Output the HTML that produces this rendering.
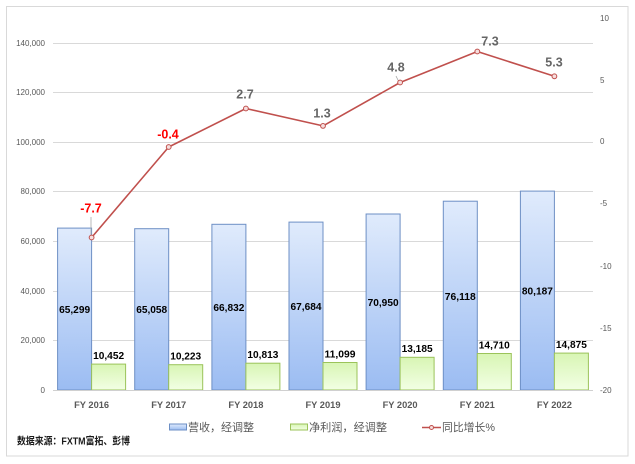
<!DOCTYPE html>
<html><head><meta charset="utf-8">
<style>
html,body{margin:0;padding:0;background:#fff;}
svg{display:block;}
text{font-family:"Liberation Sans","Noto Sans CJK SC",sans-serif;}
</style></head>
<body>
<svg width="635" height="464" viewBox="0 0 635 464" xmlns="http://www.w3.org/2000/svg">
<defs>
<linearGradient id="gb" x1="0" y1="0" x2="0" y2="1">
<stop offset="0" stop-color="#e0ebfc"/><stop offset="1" stop-color="#9bbcf2"/>
</linearGradient>
<linearGradient id="gg" x1="0" y1="0" x2="0" y2="1">
<stop offset="0" stop-color="#d8f5b4"/><stop offset="1" stop-color="#f2ffe4"/>
</linearGradient>
</defs>
<rect x="0" y="0" width="635" height="464" fill="#fff"/>
<rect x="6.5" y="6.5" width="621.5" height="449.5" fill="#fff" stroke="#d9d9d9" stroke-width="1"/>

<!-- gridlines -->
<g stroke="#d9d9d9" stroke-width="1">
<line x1="53" y1="43.5" x2="593" y2="43.5"/>
<line x1="53" y1="92.5" x2="593" y2="92.5"/>
<line x1="53" y1="142.5" x2="593" y2="142.5"/>
<line x1="53" y1="191.5" x2="593" y2="191.5"/>
<line x1="53" y1="241.5" x2="593" y2="241.5"/>
<line x1="53" y1="291.5" x2="593" y2="291.5"/>
<line x1="53" y1="340.5" x2="593" y2="340.5"/>
</g>

<!-- left axis labels -->
<g font-size="8" fill="#595959" text-anchor="end">
<text x="45" y="46">140,000</text>
<text x="45" y="95">120,000</text>
<text x="45" y="145">100,000</text>
<text x="45" y="194">80,000</text>
<text x="45" y="244">60,000</text>
<text x="45" y="294">40,000</text>
<text x="45" y="343">20,000</text>
<text x="45" y="393">0</text>
</g>
<!-- right axis labels -->
<g font-size="8" fill="#595959">
<text x="600" y="21">10</text>
<text x="600" y="83">5</text>
<text x="600" y="144">0</text>
<text x="600" y="206">-5</text>
<text x="600" y="269">-10</text>
<text x="600" y="331">-15</text>
<text x="600" y="393">-20</text>
</g>

<!-- blue bars -->
<g fill="url(#gb)" stroke="#6d8fc5" stroke-width="1">
<rect x="57.6" y="228.1" width="34" height="161.9"/>
<rect x="134.7" y="228.7" width="34" height="161.3"/>
<rect x="211.9" y="224.3" width="34" height="165.7"/>
<rect x="289.0" y="222.1" width="34" height="167.9"/>
<rect x="366.1" y="214.0" width="34" height="176.0"/>
<rect x="443.3" y="201.2" width="34" height="188.8"/>
<rect x="520.4" y="191.1" width="34" height="198.9"/>
</g>
<!-- green bars -->
<g fill="url(#gg)" stroke="#9bc35a" stroke-width="1">
<rect x="91.6" y="364.1" width="34" height="25.9"/>
<rect x="168.7" y="364.7" width="34" height="25.3"/>
<rect x="245.9" y="363.2" width="34" height="26.8"/>
<rect x="323.0" y="362.5" width="34" height="27.5"/>
<rect x="400.1" y="357.3" width="34" height="32.7"/>
<rect x="477.3" y="353.5" width="34" height="36.5"/>
<rect x="554.4" y="353.1" width="34" height="36.9"/>
</g>
<line x1="53" y1="390.5" x2="593" y2="390.5" stroke="#d0d0d0" stroke-width="1"/>

<!-- blue bar labels -->
<g font-size="10.5" font-weight="bold" fill="#000" text-anchor="middle">
<text x="74.6" y="313" textLength="31" lengthAdjust="spacingAndGlyphs">65,299</text>
<text x="151.7" y="313" textLength="31" lengthAdjust="spacingAndGlyphs">65,058</text>
<text x="228.9" y="311" textLength="31" lengthAdjust="spacingAndGlyphs">66,832</text>
<text x="306.0" y="310" textLength="31" lengthAdjust="spacingAndGlyphs">67,684</text>
<text x="383.1" y="306" textLength="31" lengthAdjust="spacingAndGlyphs">70,950</text>
<text x="460.3" y="300" textLength="31" lengthAdjust="spacingAndGlyphs">76,118</text>
<text x="537.4" y="294.5" textLength="31" lengthAdjust="spacingAndGlyphs">80,187</text>
</g>
<!-- green bar labels -->
<g font-size="10.5" font-weight="bold" fill="#000" text-anchor="middle">
<text x="108.6" y="359" textLength="31" lengthAdjust="spacingAndGlyphs">10,452</text>
<text x="185.7" y="359.5" textLength="31" lengthAdjust="spacingAndGlyphs">10,223</text>
<text x="262.9" y="358" textLength="31" lengthAdjust="spacingAndGlyphs">10,813</text>
<text x="340.0" y="357.5" textLength="31" lengthAdjust="spacingAndGlyphs">11,099</text>
<text x="417.1" y="352" textLength="31" lengthAdjust="spacingAndGlyphs">13,185</text>
<text x="494.3" y="348.5" textLength="31" lengthAdjust="spacingAndGlyphs">14,710</text>
<text x="571.4" y="348" textLength="31" lengthAdjust="spacingAndGlyphs">14,875</text>
</g>

<!-- leader lines -->
<line x1="91" y1="217" x2="91" y2="235" stroke="#a6a6a6" stroke-width="0.8"/>
<line x1="396" y1="76" x2="398.5" y2="81" stroke="#a6a6a6" stroke-width="0.8"/>

<!-- line series -->
<polyline points="91.6,237.5 168.7,147.0 245.9,108.5 323.0,125.9 400.1,82.5 477.3,51.5 554.4,76.3" fill="none" stroke="#c0504d" stroke-width="1.6" stroke-linejoin="round"/>
<g fill="#f6dede" stroke="#c0504d" stroke-width="1">
<circle cx="91.6" cy="237.5" r="2.4"/>
<circle cx="168.7" cy="147.0" r="2.4"/>
<circle cx="245.9" cy="108.5" r="2.4"/>
<circle cx="323.0" cy="125.9" r="2.4"/>
<circle cx="400.1" cy="82.5" r="2.4"/>
<circle cx="477.3" cy="51.5" r="2.4"/>
<circle cx="554.4" cy="76.3" r="2.4"/>
</g>

<!-- line labels -->
<g font-size="12.5" font-weight="bold" text-anchor="middle">
<text x="91" y="212.5" fill="#ff0000">-7.7</text>
<text x="168" y="138.5" fill="#ff0000">-0.4</text>
<text x="245" y="98.5" fill="#666">2.7</text>
<text x="322" y="117.5" fill="#666">1.3</text>
<text x="396" y="71.5" fill="#666">4.8</text>
<text x="490" y="45.5" fill="#666">7.3</text>
<text x="554" y="66.5" fill="#666">5.3</text>
</g>

<!-- x labels -->
<g font-size="9.5" font-weight="bold" fill="#595959" text-anchor="middle">
<text x="91.6" y="408" textLength="35" lengthAdjust="spacingAndGlyphs">FY 2016</text>
<text x="168.7" y="408" textLength="35" lengthAdjust="spacingAndGlyphs">FY 2017</text>
<text x="245.9" y="408" textLength="35" lengthAdjust="spacingAndGlyphs">FY 2018</text>
<text x="323.0" y="408" textLength="35" lengthAdjust="spacingAndGlyphs">FY 2019</text>
<text x="400.1" y="408" textLength="35" lengthAdjust="spacingAndGlyphs">FY 2020</text>
<text x="477.3" y="408" textLength="35" lengthAdjust="spacingAndGlyphs">FY 2021</text>
<text x="554.4" y="408" textLength="35" lengthAdjust="spacingAndGlyphs">FY 2022</text>
</g>

<!-- legend -->
<rect x="169.5" y="424" width="17" height="6" fill="url(#gb)" stroke="#6d8fc5" stroke-width="1"/>
<text x="188" y="431" font-size="11" fill="#595959" textLength="66" lengthAdjust="spacingAndGlyphs">营收，经调整</text>
<rect x="290.5" y="424" width="17" height="6" fill="url(#gg)" stroke="#9bc35a" stroke-width="1"/>
<text x="309" y="431" font-size="11" fill="#595959" textLength="78" lengthAdjust="spacingAndGlyphs">净利润，经调整</text>
<line x1="422" y1="427.5" x2="441" y2="427.5" stroke="#c0504d" stroke-width="1.6"/>
<circle cx="431.5" cy="427.5" r="2" fill="#f6dede" stroke="#c0504d" stroke-width="1"/>
<text x="442" y="431" font-size="11" fill="#595959" textLength="53" lengthAdjust="spacingAndGlyphs">同比增长%</text>

<!-- source -->
<text x="17" y="444.5" font-size="10" font-weight="bold" fill="#1a1a1a" textLength="113" lengthAdjust="spacingAndGlyphs">数据来源：FXTM富拓、彭博</text>
</svg>
</body></html>
